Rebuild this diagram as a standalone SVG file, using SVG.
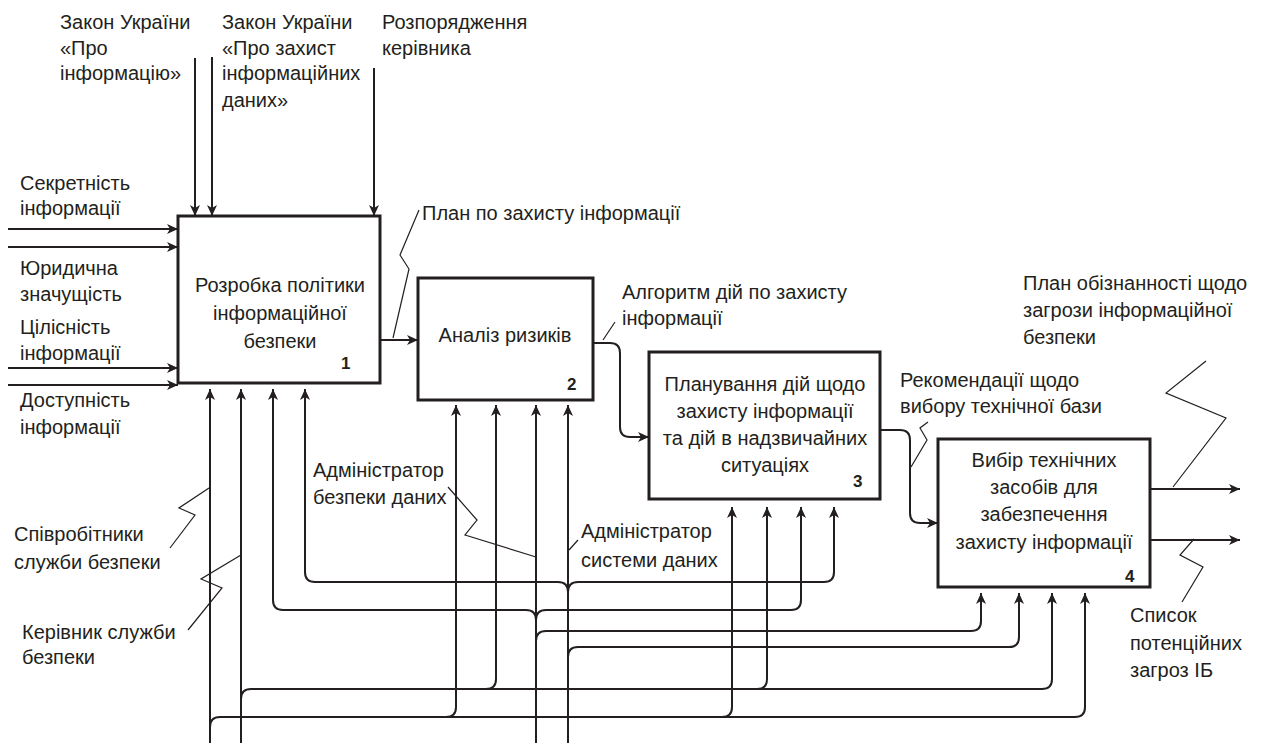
<svg xmlns="http://www.w3.org/2000/svg" width="1261" height="745" viewBox="0 0 1261 745">
<style>
text{font-family:"Liberation Sans",Arial,sans-serif;font-size:20px;fill:#231f20}
.c{text-anchor:middle}
.n{font-weight:bold;font-size:17px}
.box{fill:#fff;stroke:#231f20;stroke-width:3}
.ln{fill:none;stroke:#231f20;stroke-width:2}
.ar{marker-end:url(#ah)}
.ld{fill:none;stroke:#231f20;stroke-width:1.2}
</style>
<defs>
<marker id="ah" markerUnits="userSpaceOnUse" markerWidth="12" markerHeight="10" refX="11" refY="5" orient="auto">
<path d="M0,0 L11,5 L0,10 L3,5 z" fill="#231f20"/>
</marker>
</defs>
<rect width="1261" height="745" fill="#fff"/>
<g id="connectors">
<path class="ln ar" d="M195,58 V216"/>
<path class="ln ar" d="M212,57 V216"/>
<path class="ln ar" d="M374,68 V216"/>
<path class="ln ar" d="M8,229 H178"/>
<path class="ln ar" d="M8,247 H178"/>
<path class="ln ar" d="M8,368 H178"/>
<path class="ln ar" d="M8,385 H178"/>
<path class="ln ar" d="M380,340 H418"/>
<path class="ln ar" d="M593,343 H610 Q620,343 620,353 V427 Q620,437 630,437 H649"/>
<path class="ln ar" d="M880,430 H900 Q910,430 910,440 V513 Q910,523 920,523 H938"/>
<path class="ln ar" d="M1150,489 H1240"/>
<path class="ln ar" d="M1150,540 H1240"/>
<path class="ln ar" d="M210,743 V389"/>
<path class="ln ar" d="M210,727 Q210,717 220,717 H1075 Q1085,717 1085,707 V593"/>
<path class="ln ar" d="M446,717 Q456,717 456,707 V405"/>
<path class="ln ar" d="M722,717 Q732,717 732,707 V507"/>
<path class="ln ar" d="M241,743 V389"/>
<path class="ln ar" d="M241,699 Q241,689 251,689 H1042 Q1052,689 1052,679 V593"/>
<path class="ln ar" d="M486,689 Q496,689 496,679 V405"/>
<path class="ln ar" d="M757,689 Q767,689 767,679 V507"/>
<path class="ln ar" d="M536,743 V405"/>
<path class="ln ar" d="M536,620 Q536,610 526,610 H283 Q273,610 273,600 V389"/>
<path class="ln ar" d="M536,620 Q536,610 546,610 H791 Q801,610 801,600 V507"/>
<path class="ln ar" d="M536,641 Q536,631 546,631 H971 Q981,631 981,621 V593"/>
<path class="ln ar" d="M568,743 V405"/>
<path class="ln ar" d="M568,592 Q568,582 558,582 H315 Q305,582 305,572 V389"/>
<path class="ln ar" d="M568,592 Q568,582 578,582 H824 Q834,582 834,572 V507"/>
<path class="ln ar" d="M568,657 Q568,647 578,647 H1009 Q1019,647 1019,637 V593"/>
<path class="ld" d="M393,338 L409,269 L400,255 L419,210"/>
<path class="ld" d="M603,340 L615,322"/>
<path class="ld" d="M911,467 L927,440 L920,428 L928,422"/>
<path class="ld" d="M1173,487 L1226,418 L1166,393 L1206,361"/>
<path class="ld" d="M1194,539 L1180,555 L1203,567 L1182,602"/>
<path class="ld" d="M209,488 L179,508 L195,515 L170,548"/>
<path class="ld" d="M241,555 L201,579 L222,588 L188,630"/>
<path class="ld" d="M448,487 L477,520 L465,535 L536,557"/>
<path class="ld" d="M569,550 L578,540"/>
</g>
<g id="node1">
<rect class="box" x="178" y="216" width="202" height="167"/>
<text class="c" x="280" y="292">Розробка політики</text>
<text class="c" x="280" y="320">інформаційної</text>
<text class="c" x="280" y="348">безпеки</text>
<text class="n" x="341" y="369">1</text>
</g>
<g id="node2">
<rect class="box" x="418" y="278" width="175" height="122"/>
<text class="c" x="505" y="342">Аналіз ризиків</text>
<text class="n" x="567" y="390">2</text>
</g>
<g id="node3">
<rect class="box" x="649" y="352" width="231" height="147"/>
<text class="c" x="765" y="391">Планування дій щодо</text>
<text class="c" x="765" y="418">захисту інформації</text>
<text class="c" x="765" y="445">та дій в надзвичайних</text>
<text class="c" x="765" y="472">ситуаціях</text>
<text class="n" x="853" y="487">3</text>
</g>
<g id="node4">
<rect class="box" x="938" y="439" width="212" height="148"/>
<text class="c" x="1044" y="467">Вибір технічних</text>
<text class="c" x="1044" y="494">засобів для</text>
<text class="c" x="1044" y="521">забезпечення</text>
<text class="c" x="1044" y="549">захисту інформації</text>
<text class="n" x="1125" y="582">4</text>
</g>
<g id="labels">
<text x="60" y="29">Закон України</text>
<text x="60" y="55">«Про</text>
<text x="60" y="80">інформацію»</text>
<text x="222" y="29">Закон України</text>
<text x="222" y="55">«Про захист</text>
<text x="222" y="80">інформаційних</text>
<text x="222" y="107">даних»</text>
<text x="382" y="29">Розпорядження</text>
<text x="382" y="55">керівника</text>
<text x="20" y="190">Секретність</text>
<text x="20" y="215">інформації</text>
<text x="20" y="275">Юридична</text>
<text x="20" y="301">значущість</text>
<text x="20" y="334">Цілісність</text>
<text x="20" y="360">інформації</text>
<text x="20" y="407">Доступність</text>
<text x="20" y="434">інформації</text>
<text x="422" y="220">План по захисту інформації</text>
<text x="622" y="299">Алгоритм дій по захисту</text>
<text x="622" y="325">інформації</text>
<text x="1023" y="290">План обізнанності щодо</text>
<text x="1023" y="317">загрози інформаційної</text>
<text x="1023" y="344">безпеки</text>
<text x="900" y="387">Рекомендації щодо</text>
<text x="900" y="413">вибору технічної бази</text>
<text x="313" y="477">Адміністратор</text>
<text x="313" y="504">безпеки даних</text>
<text x="581" y="538">Адміністратор</text>
<text x="581" y="567">системи даних</text>
<text x="14" y="541">Співробітники</text>
<text x="14" y="569">служби безпеки</text>
<text x="22" y="639">Керівник служби</text>
<text x="22" y="664">безпеки</text>
<text x="1130" y="622">Список</text>
<text x="1130" y="650">потенційних</text>
<text x="1130" y="677">загроз ІБ</text>
</g>
</svg>
